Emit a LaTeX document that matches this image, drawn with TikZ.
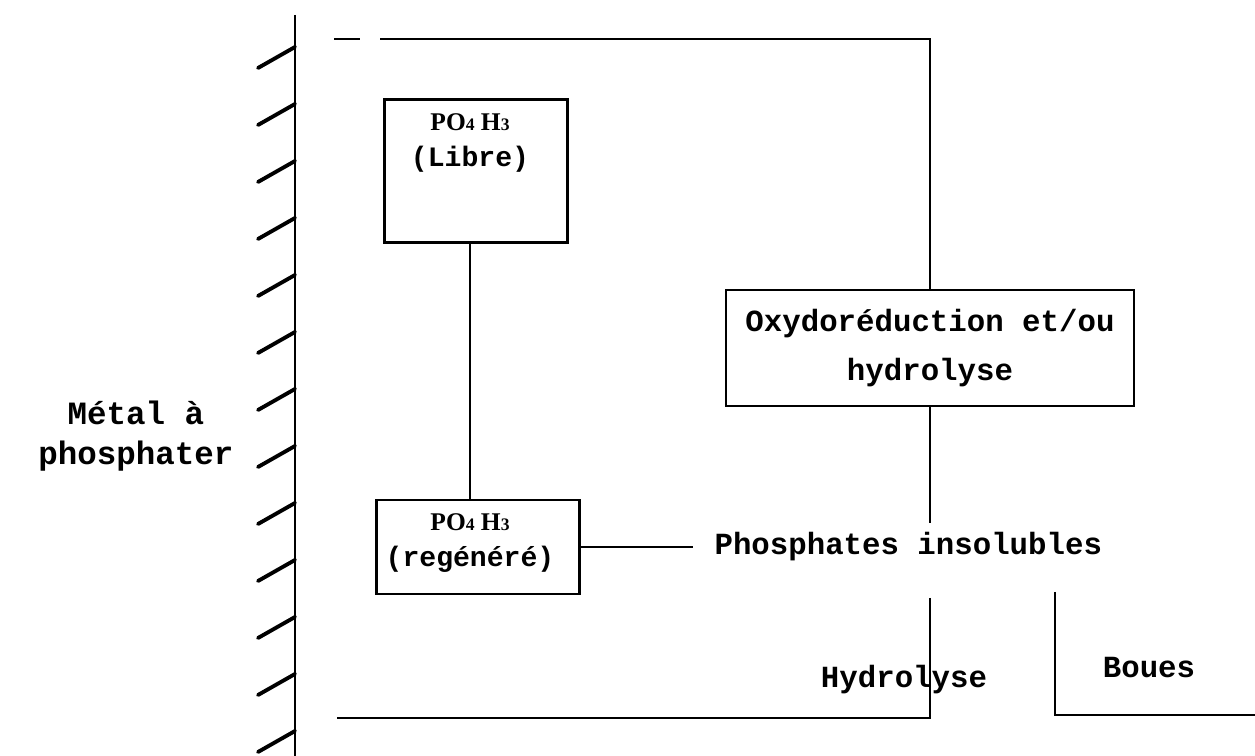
\documentclass[tikz,border=0pt]{standalone}
\usepackage{fontspec}
\setmainfont{Liberation Serif}
\setmonofont{Liberation Mono}
\usetikzlibrary{positioning}
\newcommand{\acide}{{\rmfamily\bfseries\fontsize{14.5}{16}\selectfont PO{\fontsize{10}{10}\selectfont 4} H{\fontsize{10}{10}\selectfont 3}}}

\begin{document}
\begin{tikzpicture}[x=0.02cm,y=-0.02cm,line width=1.2pt,every node/.style={font=\ttfamily\bfseries\fontsize{17.5}{28}\selectfont,inner sep=0pt}]
\tikzstyle{n}=[draw,line width=1.2pt,inner sep=0pt]
\tikzstyle{t}=[align=center,font=\ttfamily\bfseries\fontsize{16}{21}\selectfont]
\useasboundingbox (0,0) rectangle (1255,756);
% paroi
\draw[line width=1.7pt] (295,15) -- (295,756);
\foreach \k in {0,...,12}
  \draw[line width=2.2pt,line cap=round] (295,47+57*\k) -- ++(-37,21);
\node[align=center,font=\ttfamily\bfseries\fontsize{18.5}{23}\selectfont] (metal) at (136,436) {Métal à\\phosphater};
% bain
\node[n,minimum width=3.66cm,minimum height=2.86cm] (libre) at (476,171) {};
\node[t] (libret) at (470,143) {\acide\\(Libre)};
\node[n,minimum width=4.06cm,minimum height=1.88cm] (regen) at (478,547) {};
\node[t] (regent) at (470,543) {\acide\\(regénéré)};
\node[n,minimum width=8.16cm,minimum height=2.32cm,align=center] (oxy) at (930,348) {Oxydoréduction et/ou\\hydrolyse};
\node[right=2.66cm of regen] (phos) {Phosphates insolubles};
\coordinate[right=2.24cm of regen] (fin);
\node (hydro) at (904,680) {Hydrolyse};
\node (boues) at (1149,668) {Boues};
\draw (libre.south -| libret) -- (regen.north -| libret);
\draw (regen.east) -- (fin);
% cuve
\draw (334,39) -- (360,39);
\draw (380,39) -- (930,39) -- (oxy.north);
\coordinate (b1) at (930,523);
\draw (oxy.south) -- (b1);
\draw (930,598) -- (930,718) -- (337,718);
\draw (1055,592) -- (1055,715) -- (1255,715);
\end{tikzpicture}
\end{document}
